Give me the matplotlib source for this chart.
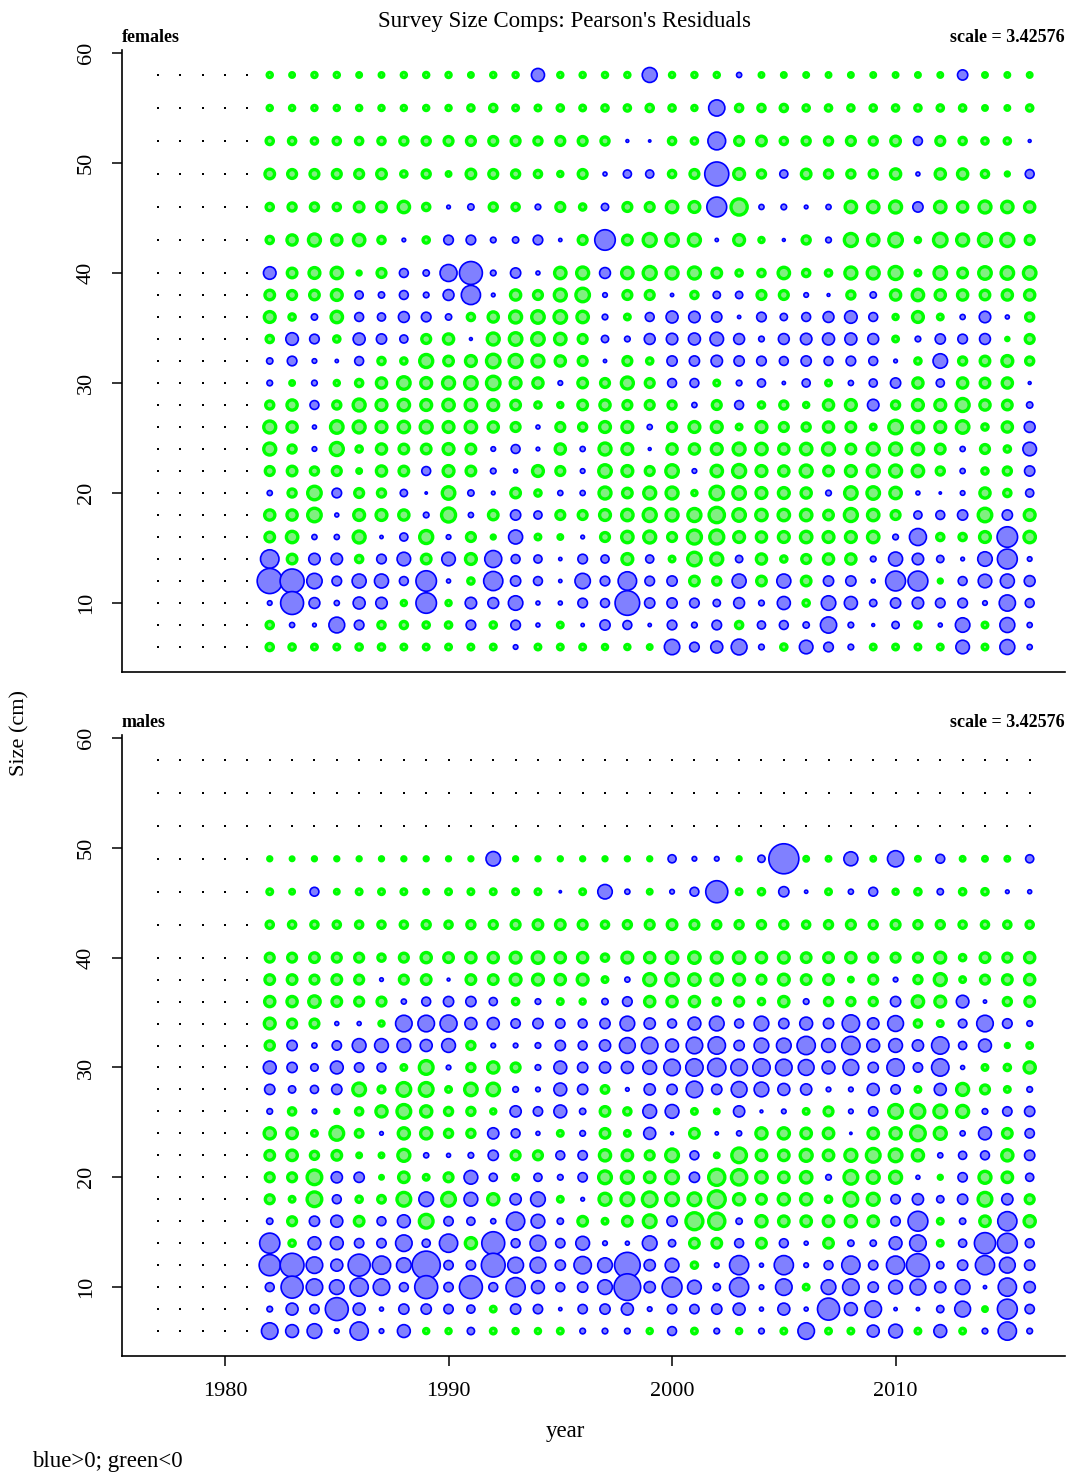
import numpy as np
import matplotlib
matplotlib.use("Agg")
import matplotlib.pyplot as plt

years = list(range(1982, 2017))
nodata_years = [1977, 1978, 1979, 1980, 1981]
sizes = [58, 55, 52, 49, 46, 43, 40, 38, 36, 34, 32, 30, 28, 26, 24, 22, 20, 18, 16, 14, 12, 10, 8, 6]
max_resid = 3.42576

# Pearson residuals, one row per size bin (top = 58 cm), columns 1982..2016
females = [
    [-0.1, -0.08, -0.1, -0.1, -0.08, -0.08, -0.1, -0.1, -0.1, -0.08, -0.1, -0.1, 0.65, -0.1, -0.1, -0.1, -0.1, 0.85, -0.1, -0.1, -0.1, 0.1, -0.08, -0.08, -0.08, -0.08, -0.08, -0.08, -0.08, -0.08, -0.08, 0.4, -0.08, -0.08, -0.08],
    [-0.1, -0.1, -0.1, -0.1, -0.1, -0.1, -0.1, -0.1, -0.1, -0.15, -0.2, -0.12, -0.12, -0.15, -0.12, -0.15, -0.15, -0.2, -0.15, -0.1, 1.0, -0.2, -0.2, -0.2, -0.15, -0.15, -0.15, -0.15, -0.15, -0.15, -0.15, -0.15, -0.08, -0.08, -0.15],
    [-0.2, -0.2, -0.15, -0.2, -0.2, -0.2, -0.25, -0.25, -0.3, -0.3, -0.3, -0.3, -0.25, -0.3, -0.3, -0.25, 0.03, 0.02, -0.2, -0.15, 1.2, -0.3, -0.35, -0.2, -0.25, -0.25, -0.3, -0.25, -0.35, 0.3, -0.3, -0.2, -0.15, -0.15, 0.03],
    [-0.35, -0.3, -0.3, -0.3, -0.3, -0.35, -0.15, -0.25, -0.08, -0.35, -0.3, -0.25, -0.2, -0.1, -0.3, 0.06, 0.25, 0.25, -0.2, -0.3, 2.2, -0.45, -0.25, 0.25, -0.35, -0.25, -0.25, -0.25, -0.4, 0.06, -0.4, -0.4, -0.2, -0.06, 0.3],
    [-0.2, -0.25, -0.25, -0.2, -0.35, -0.35, -0.5, -0.2, 0.05, 0.15, -0.25, -0.2, 0.12, -0.3, -0.15, 0.2, -0.3, -0.3, -0.5, -0.45, 1.5, -1.0, 0.1, 0.12, 0.05, 0.1, -0.5, -0.5, -0.55, 0.4, -0.5, -0.4, -0.55, -0.5, -0.4],
    [-0.2, -0.4, -0.55, -0.4, -0.5, -0.2, 0.05, -0.15, 0.35, 0.35, 0.12, 0.15, 0.35, 0.04, -0.3, 1.6, -0.35, -0.65, -0.6, -0.55, 0.04, -0.45, -0.1, 0.03, -0.25, 0.12, -0.65, -0.5, -0.7, -0.1, -0.7, -0.55, -0.65, -0.65, -0.3],
    [0.6, -0.35, -0.45, -0.5, -0.06, -0.3, 0.3, 0.15, 1.1, 2.0, 0.12, 0.4, 0.06, -0.5, -0.55, 0.45, -0.5, -0.65, -0.55, -0.55, -0.35, -0.15, -0.2, -0.5, -0.2, -0.15, -0.55, -0.55, -0.65, -0.12, -0.6, -0.35, -0.6, -0.6, -0.6],
    [-0.35, -0.3, -0.35, -0.45, 0.25, 0.15, 0.3, 0.12, 0.45, 1.4, 0.05, -0.4, -0.3, -0.55, -0.7, 0.08, -0.3, -0.3, 0.04, -0.2, 0.2, 0.2, -0.3, -0.3, 0.08, 0.03, -0.25, 0.15, -0.4, -0.5, -0.4, -0.4, -0.35, -0.4, -0.4],
    [-0.45, -0.15, 0.15, -0.5, 0.3, 0.25, 0.45, 0.35, 0.15, -0.2, -0.4, -0.55, -0.6, -0.6, -0.5, 0.12, -0.12, 0.3, 0.55, 0.5, 0.4, 0.04, 0.35, 0.2, 0.3, 0.45, 0.6, 0.3, -0.1, -0.45, -0.12, 0.1, 0.5, 0.06, -0.25],
    [-0.2, 0.6, 0.35, -0.15, 0.55, 0.4, 0.25, -0.3, -0.4, 0.03, -0.55, -0.6, -0.6, -0.5, -0.3, 0.2, 0.12, 0.45, 0.5, 0.55, 0.7, 0.45, 0.12, 0.45, 0.5, 0.55, 0.55, 0.45, -0.12, 0.12, 0.4, 0.35, 0.45, -0.04, -0.3],
    [0.15, 0.35, 0.08, 0.04, 0.3, -0.2, -0.15, -0.65, -0.35, -0.45, -0.7, -0.65, -0.55, -0.4, -0.3, 0.04, -0.3, -0.15, 0.4, 0.4, 0.5, 0.4, 0.35, 0.3, 0.4, 0.3, 0.35, 0.3, 0.05, -0.15, 0.8, -0.25, -0.35, -0.45, -0.25],
    [0.12, -0.08, 0.12, -0.1, -0.2, -0.4, -0.6, -0.45, -0.55, -0.6, -0.7, -0.45, -0.4, 0.08, -0.35, -0.3, -0.55, -0.3, 0.3, 0.3, -0.12, 0.12, 0.25, 0.04, 0.25, -0.12, 0.1, 0.25, 0.4, -0.4, 0.25, -0.4, -0.35, -0.4, 0.03],
    [-0.25, -0.4, 0.3, -0.25, -0.55, -0.45, -0.5, -0.45, -0.5, -0.5, -0.45, -0.35, -0.15, -0.1, -0.35, -0.4, -0.3, -0.3, -0.25, 0.1, -0.3, 0.3, -0.15, -0.25, -0.1, -0.4, -0.45, 0.5, -0.25, -0.45, -0.45, -0.65, -0.4, -0.35, 0.15],
    [-0.55, -0.4, 0.06, -0.6, -0.55, -0.45, -0.5, -0.55, -0.45, -0.5, -0.4, -0.3, 0.06, -0.3, -0.25, -0.45, -0.45, 0.1, -0.3, -0.45, -0.45, -0.12, -0.45, -0.3, -0.25, -0.4, -0.35, -0.12, -0.7, -0.5, -0.45, -0.6, -0.15, -0.4, 0.45],
    [-0.55, -0.25, 0.08, -0.65, -0.15, -0.4, -0.35, -0.35, -0.45, -0.35, 0.08, 0.3, 0.05, -0.4, 0.1, -0.55, -0.45, 0.03, -0.4, -0.4, -0.45, -0.55, -0.5, -0.4, -0.5, -0.55, -0.35, -0.55, -0.55, -0.5, -0.35, 0.1, -0.3, -0.15, 0.7],
    [-0.3, -0.35, -0.25, -0.3, -0.08, -0.4, -0.35, 0.3, -0.45, -0.35, 0.12, 0.06, -0.45, -0.3, 0.08, -0.6, -0.45, -0.3, -0.6, 0.08, -0.5, -0.65, -0.45, -0.4, -0.55, -0.35, -0.45, -0.55, -0.55, -0.5, -0.25, 0.1, -0.15, -0.25, 0.4],
    [0.1, -0.25, -0.7, 0.35, -0.3, -0.25, 0.2, 0.02, -0.6, 0.15, 0.05, -0.35, -0.15, 0.1, 0.1, -0.55, -0.35, -0.55, -0.55, -0.1, -0.7, -0.6, -0.45, -0.45, -0.4, 0.12, -0.6, -0.6, -0.5, 0.06, 0.02, 0.08, -0.4, -0.2, 0.25],
    [-0.4, -0.4, -0.7, 0.06, -0.45, -0.45, -0.4, 0.12, -0.75, 0.1, -0.35, 0.4, 0.25, -0.3, -0.3, -0.45, -0.5, -0.65, -0.55, -0.65, -0.9, -0.6, -0.5, -0.5, -0.5, -0.35, -0.65, -0.5, -0.3, 0.25, 0.3, 0.4, -0.7, 0.4, -0.45],
    [-0.35, -0.5, 0.1, 0.1, -0.55, 0.04, 0.25, -0.65, 0.08, -0.3, -0.06, 0.75, -0.12, -0.08, 0.05, -0.3, -0.5, -0.55, -0.3, -0.75, -0.75, -0.45, -0.4, -0.45, -0.5, -0.45, -0.45, -0.5, 0.12, 1.1, -0.2, -0.2, -0.45, 1.6, -0.5],
    [1.3, -0.35, 0.5, 0.5, -0.2, 0.35, 0.7, -0.35, 0.7, -0.45, 1.1, 0.3, 0.25, 0.04, 0.35, 0.25, -0.45, 0.25, -0.12, -0.7, -0.55, 0.2, -0.4, -0.15, -0.3, -0.4, -0.4, 0.12, 0.75, 0.5, 0.2, 0.05, 0.8, 1.5, 0.08],
    [2.4, 2.2, 0.9, 0.35, 0.75, 0.75, 0.3, 1.6, 0.06, -0.15, 1.4, 0.4, 0.3, 0.04, 0.9, 0.35, 1.3, 0.35, 0.4, -0.35, -0.25, 0.75, -0.35, 0.75, -0.35, 0.4, 0.4, 0.06, 1.5, 1.5, -0.06, 0.3, 0.7, 0.75, 0.45],
    [0.08, 2.0, 0.45, 0.1, 0.55, 0.5, -0.1, 1.6, -0.1, 0.5, 0.45, 0.8, 0.06, 0.06, 0.35, 0.3, 2.3, 0.4, 0.4, 0.35, 0.2, 0.45, 0.12, 0.65, -0.15, 0.8, 0.65, 0.2, 0.4, 0.5, 0.35, 0.35, 0.08, 1.0, 0.3],
    [-0.2, 0.1, 0.05, 0.95, 0.35, -0.2, -0.2, -0.15, -0.15, 0.35, -0.15, 0.35, 0.06, -0.12, 0.04, 0.4, 0.3, 0.04, 0.35, 0.12, 0.35, -0.2, 0.25, 0.3, 0.15, 1.0, 0.12, 0.03, 0.2, -0.15, 0.06, 0.8, -0.12, 0.85, 0.1],
    [-0.2, -0.15, -0.12, -0.12, -0.15, -0.15, -0.12, -0.12, -0.12, -0.12, -0.12, 0.08, -0.12, -0.12, -0.12, -0.1, -0.1, -0.08, 0.9, 0.35, 0.55, 0.95, 0.12, -0.15, 0.7, 0.35, 0.12, -0.12, -0.12, -0.12, -0.12, 0.7, -0.12, 0.85, 0.1],
]

# males: no observations in the three largest bins
male_nodata_sizes = [58, 55, 52]
male_sizes = sizes[3:]
males = [
    [-0.06, -0.05, -0.06, -0.06, -0.06, -0.06, -0.06, -0.06, -0.06, -0.06, 0.8, -0.06, -0.06, -0.06, -0.06, -0.06, -0.06, -0.06, 0.25, 0.08, 0.08, -0.06, 0.2, 3.43, -0.08, -0.08, 0.75, -0.08, 1.0, -0.08, 0.3, -0.08, -0.08, -0.08, 0.25],
    [-0.12, -0.08, 0.3, -0.08, -0.12, -0.12, -0.12, -0.08, -0.12, -0.12, -0.12, -0.12, -0.12, 0.02, -0.12, 0.8, 0.1, -0.08, 0.08, 0.3, 1.85, -0.12, -0.15, 0.4, 0.04, -0.12, 0.1, 0.3, -0.1, -0.15, 0.15, -0.15, -0.15, 0.05, 0.06],
    [-0.2, -0.2, -0.2, -0.2, -0.2, -0.2, -0.2, -0.25, -0.2, -0.25, -0.25, -0.3, -0.35, -0.35, -0.3, -0.2, -0.25, -0.3, -0.35, -0.3, -0.25, -0.25, -0.25, -0.25, -0.2, -0.25, -0.3, -0.25, -0.3, -0.25, -0.25, -0.2, -0.2, -0.2, -0.2],
    [-0.3, -0.3, -0.35, -0.3, -0.3, -0.2, -0.3, -0.4, -0.35, -0.4, -0.4, -0.45, -0.5, -0.4, -0.4, -0.2, -0.45, -0.4, -0.5, -0.5, -0.45, -0.5, -0.4, -0.45, -0.35, -0.35, -0.4, -0.3, -0.3, -0.3, -0.45, -0.15, -0.35, -0.3, -0.4],
    [-0.35, -0.35, -0.3, -0.35, -0.3, 0.05, -0.3, -0.35, 0.03, -0.35, -0.35, -0.45, -0.45, -0.4, -0.45, -0.12, 0.1, -0.55, -0.6, -0.5, -0.5, -0.45, -0.3, -0.45, -0.35, -0.35, -0.08, -0.3, 0.08, -0.25, -0.55, -0.12, -0.3, -0.35, -0.4],
    [-0.4, -0.4, -0.5, -0.35, -0.3, -0.3, 0.1, 0.3, 0.4, 0.4, 0.25, -0.15, 0.12, -0.12, -0.1, 0.15, 0.35, -0.4, -0.4, -0.4, -0.2, -0.3, -0.15, -0.4, 0.12, -0.25, -0.25, -0.25, 0.4, -0.5, -0.45, 0.6, 0.04, -0.25, -0.35],
    [-0.45, -0.3, -0.3, 0.06, 0.06, -0.1, 1.04, 1.04, 1.1, 0.55, 0.55, 0.33, 0.4, 0.33, 0.3, 0.4, 0.82, 0.48, 0.3, 0.63, 0.82, 0.3, 0.82, 0.4, 0.63, 0.4, 1.15, 0.5, 0.95, -0.2, -0.12, 0.28, 1.04, 0.35, 0.12],
    [-0.32, 0.4, 0.1, 0.33, 0.72, 0.72, 0.72, 0.55, 0.72, -0.25, 0.08, 0.08, 0.12, 0.4, 0.3, 0.48, 0.95, 1.04, 0.63, 1.04, 1.15, 0.4, 0.82, 0.82, 1.27, 0.72, 1.27, 0.63, 0.72, 0.48, 1.15, 0.25, 0.63, -0.06, -0.12],
    [0.63, 0.4, 0.21, 0.63, 0.33, 0.3, -0.12, -0.72, 0.08, -0.25, -0.48, -0.3, 0.12, 0.63, 0.4, 0.48, 0.55, 0.72, 1.04, 1.15, 1.27, 1.04, 1.15, 1.04, 0.95, 0.63, 0.95, 0.4, 1.15, 0.33, 1.15, 0.06, -0.12, -0.15, -0.48],
    [0.4, 0.2, 0.25, 0.4, -0.62, -0.18, -0.72, -0.72, -0.12, -0.6, -0.6, 0.12, 0.08, 0.63, 0.4, -0.22, 0.05, 0.48, 0.4, 1.04, 0.4, 0.95, 0.82, 0.55, 0.48, 0.08, 0.08, 0.55, 0.33, -0.12, 0.55, -0.55, -0.3, -0.12, 0.12],
    [0.12, -0.2, 0.08, -0.06, -0.2, -0.48, -0.72, -0.48, -0.25, -0.25, -0.1, 0.48, 0.33, 0.63, 0.15, -0.35, -0.2, 0.72, 0.72, -0.12, -0.08, 0.48, 0.03, 0.08, -0.12, -0.3, 0.08, 0.33, -0.72, -0.72, -0.62, -0.55, 0.12, 0.33, 0.4],
    [-0.48, -0.42, -0.12, -0.72, -0.22, 0.05, -0.48, -0.48, -0.25, -0.25, 0.48, 0.3, 0.06, -0.12, 0.12, -0.35, -0.12, 0.55, 0.03, -0.35, 0.04, 0.1, -0.48, -0.48, -0.42, -0.42, 0.02, -0.42, -0.48, -0.82, -0.55, 0.1, 0.63, -0.35, 0.33],
    [-0.35, -0.42, -0.25, -0.35, -0.08, -0.08, -0.55, 0.1, 0.06, 0.12, 0.4, -0.3, -0.3, 0.3, 0.33, -0.48, -0.42, -0.3, -0.62, 0.3, -0.08, -0.82, -0.42, -0.42, -0.55, -0.42, -0.55, -0.72, -0.62, -0.48, 0.1, 0.25, 0.3, -0.48, 0.4],
    [-0.3, -0.3, -0.82, 0.48, 0.4, -0.05, -0.42, -0.12, -0.3, 0.72, 0.25, -0.12, 0.25, 0.12, 0.33, -0.62, -0.55, -0.42, -0.62, 0.4, -1.0, -0.9, -0.5, -0.42, -0.5, 0.12, -0.72, -0.55, -0.55, 0.06, -0.06, 0.33, -0.55, -0.42, 0.25],
    [-0.3, -0.12, -0.82, 0.3, -0.15, -0.22, -0.72, 0.82, -0.72, 0.72, -0.48, 0.48, 0.82, -0.12, 0.05, -0.55, -0.62, -0.82, -0.62, -0.62, -1.1, -0.48, -0.35, -0.48, -0.48, -0.15, -0.72, -0.55, 0.33, 0.48, 0.2, 0.4, -0.72, 0.48, -0.3],
    [0.15, -0.3, 0.4, 0.55, -0.35, 0.3, 0.63, -0.72, 0.33, 0.25, 0.1, 1.27, 0.72, 0.15, -0.35, -0.12, -0.35, -0.62, 0.4, -1.1, -1.0, 0.15, -0.48, -0.42, -0.42, -0.42, -0.48, -0.42, 0.33, 1.5, -0.12, 0.15, -0.42, 1.4, -0.48],
    [1.55, -0.15, 0.63, 0.63, 0.33, 0.33, 1.04, 0.25, 1.27, -0.48, 2.0, 0.3, 0.95, 0.33, 0.72, 0.08, 0.06, 0.82, 0.2, -0.35, -0.35, 0.3, -0.35, 0.3, 0.06, -0.35, 0.15, 0.15, 0.63, 1.04, -0.12, 0.25, 1.7, 1.5, 0.3],
    [1.7, 2.15, 1.04, 0.55, 1.85, 1.27, 0.82, 3.0, 0.33, 0.33, 2.15, 0.95, 0.95, 0.4, 1.15, 0.82, 2.5, 0.48, 0.72, -0.15, 0.08, 1.4, 0.06, 1.4, 0.08, 0.3, 1.27, 0.33, 1.27, 2.0, 0.2, 0.4, 1.4, 0.95, 0.4],
    [0.3, 1.85, 1.04, 0.82, 1.27, 1.04, 0.3, 2.0, 0.33, 2.0, 0.3, 1.4, 0.63, 0.3, 0.4, 0.82, 2.7, 0.48, 1.5, 0.72, 0.2, 1.4, 0.08, 1.04, -0.12, 0.82, 1.04, 0.4, 0.72, 0.95, 0.48, 0.82, 0.04, 1.27, 0.48],
    [0.12, 0.55, 0.33, 2.0, 0.55, 0.06, 0.4, 0.4, 0.33, 0.25, -0.12, 0.4, 0.33, 0.04, 0.33, 0.4, 0.55, 0.08, 0.33, 0.33, 0.4, 0.55, 0.06, 0.55, 0.06, 1.85, 0.63, 1.04, 0.04, 0.04, 0.2, 0.95, -0.08, 1.5, 0.33],
    [1.04, 0.63, 0.82, 0.08, 1.27, 0.08, 0.63, -0.1, -0.1, 0.2, -0.12, -0.1, -0.1, -0.12, 0.12, 0.12, 0.12, -0.1, 0.3, -0.12, 0.12, -0.1, 0.12, -0.12, 1.04, -0.12, -0.12, 0.55, 0.72, -0.12, 0.63, -0.12, 0.12, 1.27, 0.12],
]

SERIF = ["Liberation Serif", "DejaVu Serif"]
BLUE_FACE, BLUE_EDGE = "#8080ff", "#0000ff"
GREEN_FACE, GREEN_EDGE = "#80f080", "#00ff00"
DPI = 100
MAX_DIAM_PX = 30.0  # diameter of the |resid| == max_resid bubble


def marker_area(vals):
    # area proportional to |residual|; points^2 for scatter
    d_pt = MAX_DIAM_PX * np.sqrt(np.abs(vals) / max_resid) * 72 / DPI
    return d_pt ** 2


def draw_panel(ax, grid, row_sizes, empty_sizes=()):
    all_years = nodata_years + years
    # placeholder dots for years / bins with no data
    dx, dy = [], []
    for s in sizes:
        for y in all_years:
            if y in nodata_years or s in empty_sizes:
                dx.append(y)
                dy.append(s)
    ax.scatter(dx, dy, s=4.2, marker="s", color="black", linewidths=0, zorder=2)

    xs, ys, vs = [], [], []
    for s, row in zip(row_sizes, grid):
        assert len(row) == len(years)
        xs += years
        ys += [s] * len(row)
        vs += row
    xs, ys, vs = np.array(xs), np.array(ys), np.array(vs)
    pos = vs > 0
    neg = vs < 0
    ax.scatter(xs[neg], ys[neg], s=marker_area(vs[neg]), facecolor=GREEN_FACE,
               edgecolor=GREEN_EDGE, linewidths=2.4, zorder=3)
    ax.scatter(xs[pos], ys[pos], s=marker_area(vs[pos]), facecolor=BLUE_FACE,
               edgecolor=BLUE_EDGE, linewidths=1.2, zorder=3)

    ax.set_xlim(1975.39, 2017.58)
    ax.set_ylim(3.73, 60.27)
    ax.set_yticks([10, 20, 30, 40, 50, 60])
    ax.set_xticks([1980, 1990, 2000, 2010])
    for side in ("top", "right"):
        ax.spines[side].set_visible(False)
    for side in ("left", "bottom"):
        ax.spines[side].set_linewidth(1.2)
    ax.tick_params(axis="y", direction="out", length=7, width=1.1, pad=12,
                   labelsize=16, labelrotation=90)
    for lab in ax.get_yticklabels():
        lab.set_family(SERIF)
        lab.set_va("center")
    ax.tick_params(axis="x", direction="out", length=7, width=1.1, pad=12, labelsize=16)
    for lab in ax.get_xticklabels():
        lab.set_family(SERIF)


fig = plt.figure(figsize=(10.73, 14.77), dpi=DPI)
W, H = 1073, 1477
ax_f = fig.add_axes([122 / W, 1 - 672 / H, 943 / W, 622 / H])
ax_m = fig.add_axes([122 / W, 1 - 1356 / H, 943 / W, 621 / H])

draw_panel(ax_f, females, sizes)
draw_panel(ax_m, males, male_sizes, empty_sizes=male_nodata_sizes)
ax_f.tick_params(axis="x", bottom=False, labelbottom=False)

fig.text(565 / W, 1 - 21 / H, "Survey Size Comps: Pearson's Residuals", ha="center",
         va="center", fontsize=16.5, family=SERIF)
for y_px, name in ((38, "females"), (722, "males")):
    fig.text(122 / W, 1 - y_px / H, name, ha="left", va="center", fontsize=13,
             family=SERIF, fontweight="bold")
    fig.text(1065 / W, 1 - y_px / H, f"scale = {max_resid}", ha="right", va="center",
             fontsize=13, family=SERIF, fontweight="bold")
fig.text(20 / W, 1 - 733 / H, "Size (cm)", rotation=90, ha="center", va="center",
         fontsize=16, family=SERIF)
fig.text(565 / W, 1 - 1432 / H, "year", ha="center", va="center", fontsize=16.5, family=SERIF)
fig.text(32 / W, 1 - 1462 / H, "blue>0; green<0", ha="left", va="center", fontsize=16.5,
         family=SERIF)

fig.savefig("out.png", dpi=DPI)
